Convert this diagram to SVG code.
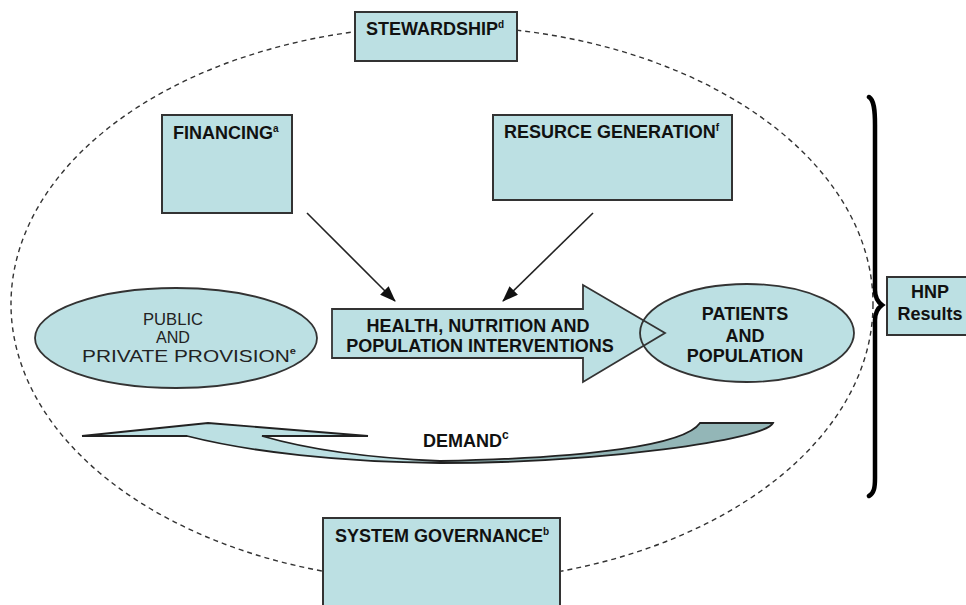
<svg xmlns="http://www.w3.org/2000/svg" width="966" height="605" viewBox="0 0 966 605">
<style>
.box{fill:#bce0e3;stroke:#333;stroke-width:2}
.b{font-family:"Liberation Sans",Arial,sans-serif;font-weight:bold;font-size:18px;fill:#111}
.r{font-family:"Liberation Sans",Arial,sans-serif;font-size:17px;fill:#222}
.sup{font-size:10px}
.conn{stroke:#222;stroke-width:1.6;fill:none}
</style>
<defs>
<marker id="ah2" viewBox="0 0 16 12" refX="15" refY="6" markerWidth="16" markerHeight="12" orient="auto" markerUnits="userSpaceOnUse">
<path d="M0,0 L16,6 L0,12 Z" fill="#111"/>
</marker>
</defs>
<rect width="966" height="605" fill="#fff"/>
<g id="boundary">
<ellipse cx="442" cy="304" rx="431" ry="278" fill="none" stroke="#333" stroke-width="1.4" stroke-dasharray="5,4"/>
</g>
<g id="stewardship">
<rect class="box" x="355" y="12" width="162" height="49"/>
<text class="b" x="366" y="35">STEWARDSHIP<tspan class="sup" dy="-7">d</tspan></text>
</g>
<g id="financing">
<rect class="box" x="162" y="115" width="130" height="98"/>
<text class="b" x="173" y="139">FINANCING<tspan class="sup" dy="-7">a</tspan></text>
</g>
<g id="resource-generation">
<rect class="box" x="493" y="115" width="239" height="85"/>
<text class="b" x="504" y="138">RESURCE GENERATION<tspan class="sup" dy="-7">f</tspan></text>
</g>
<g id="provision">
<ellipse cx="176" cy="338" rx="141" ry="50" fill="#bce0e3" stroke="#333" stroke-width="1.8"/>
<text class="r" x="143" y="325" textLength="60" lengthAdjust="spacingAndGlyphs">PUBLIC</text>
<text class="r" x="156" y="343" textLength="34" lengthAdjust="spacingAndGlyphs">AND</text>
<text class="r" x="82" y="362" textLength="214" lengthAdjust="spacingAndGlyphs">PRIVATE PROVISION<tspan style="font-size:9px;font-weight:bold" dy="-8">e</tspan></text>
</g>
<g id="interventions">
<path d="M332,309 L583,309 L583,285 L665,333 L583,382 L583,358 L332,358 Z" fill="#bce0e3"/>
</g>
<g id="patients">
<ellipse cx="747" cy="333" rx="107" ry="49" fill="#bce0e3" stroke="#333" stroke-width="1.8"/>
<text class="b" x="745" y="320" text-anchor="middle">PATIENTS</text>
<text class="b" x="745" y="342" text-anchor="middle">AND</text>
<text class="b" x="745" y="362" text-anchor="middle">POPULATION</text>
</g>
<g id="interventions-outline">
<path d="M332,309 L583,309 L583,285 L665,333 L583,382 L583,358 L332,358 Z" fill="none" stroke="#333" stroke-width="1.8"/>
<text class="b" x="478" y="332" text-anchor="middle">HEALTH, NUTRITION AND</text>
<text class="b" x="480" y="352" text-anchor="middle">POPULATION INTERVENTIONS</text>
</g>
<g id="demand">
<path d="M82,436 L208,423 L368,436 L262,436 C310,450 370,458 440,461 L440,463 C340,462 250,452 187,436 Z" fill="#bce0e3"/>
<path d="M440,461 C590,458 685,445 700,423 L773,423 C765,440 600,463 440,463 Z" fill="#93b6b7"/>
<path d="M82,436 L208,423 L368,436 L262,436 C310,450 370,458 440,461 C590,458 685,445 700,423 L773,423 C765,440 600,463 440,463 C340,462 250,452 187,436 Z" fill="none" stroke="#222" stroke-width="1.8"/>
<text class="b" x="423" y="447">DEMAND<tspan font-size="12" dy="-8">c</tspan></text>
</g>
<g id="system-governance">
<rect class="box" x="323" y="518" width="237" height="95"/>
<text class="b" x="335" y="542">SYSTEM GOVERNANCE<tspan class="sup" dy="-7">b</tspan></text>
</g>
<g id="hnp-results">
<rect class="box" x="887" y="277" width="85" height="58"/>
<text class="b" x="930" y="298" text-anchor="middle">HNP</text>
<text class="b" x="930" y="320" text-anchor="middle">Results</text>
</g>
<g id="brace">
<path d="M869,97 C874,100 875,110 875,125 L875,290 C875,298 878,302 882,305 C878,308 875,312 875,320 L875,478 C875,488 874,493 869,496" fill="none" stroke="#000" stroke-width="4.5" stroke-linecap="round"/>
</g>
<g id="connectors">
<line class="conn" x1="307" y1="213" x2="395" y2="301" marker-end="url(#ah2)"/>
<line class="conn" x1="593" y1="213" x2="503" y2="301" marker-end="url(#ah2)"/>
</g>
</svg>
